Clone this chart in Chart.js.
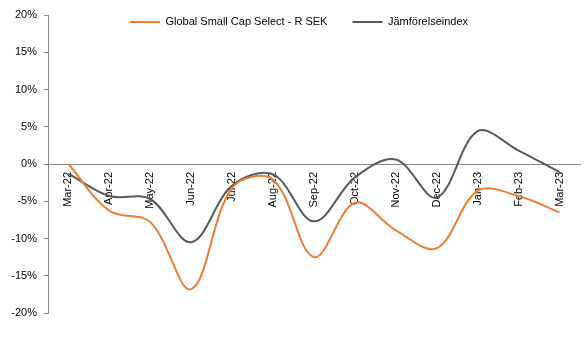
<!DOCTYPE html>
<html>
<head>
<meta charset="utf-8">
<script src="https://cdn.jsdelivr.net/npm/chart.js@4"></script>
<style>
  html, body { margin: 0; padding: 0; background: #fff; }
  #wrap { width: 587px; height: 339px; }
</style>
</head>
<body>
<div id="wrap"><canvas id="chart"></canvas></div>
<script>
let months = ["Mar-22", "Apr-22", "May-22", "Jun-22", "Jul-22", "Aug-22", "Sep-22",
  "Oct-22", "Nov-22", "Dec-22", "Jan-23", "Feb-23", "Mar-23"];
let fund = [0, -6.3, -7.8, -16.8, -3.2, -2.1, -12.5, -5.2, -8.9, -11.3, -3.6, -4.3, -6.5];
let index = [-1.3, -4.3, -4.7, -10.5, -2.9, -1.4, -7.7, -1.8, 0.6, -4.5, 4.4, 1.8, -1.1];
let fundName = "Global Small Cap Select - R SEK";
let indexName = "Jämförelseindex";

Chart.defaults.font.family = "'Liberation Sans', Arial, sans-serif";
Chart.defaults.font.size = 11;
Chart.defaults.color = "#000";

// legend sits on top of the plot area, like the original
const legendShift = {
  id: "legendShift",
  afterLayout(chart) {
    const lg = chart.legend;
    lg.top = -8.5;
    lg.bottom = 60;
    lg.left = 11;
    lg.right = 587;
  },
};

new Chart(document.getElementById("chart"), {
  type: "line",
  data: {
    labels: months,
    datasets: [
      {
        label: fundName,
        data: fund,
        borderColor: "#ED7D31",
        backgroundColor: "#ED7D31",
        borderWidth: 2,
        pointRadius: 0,
        tension: 0.35,
      },
      {
        label: indexName,
        data: index,
        borderColor: "#595959",
        backgroundColor: "#595959",
        borderWidth: 2,
        pointRadius: 0,
        tension: 0.35,
      },
    ],
  },
  options: {
    responsive: true,
    maintainAspectRatio: false,
    animation: false,
    layout: { padding: { left: 0, right: 7, top: 0, bottom: 26 } },
    scales: {
      x: {
        position: { y: 0 },
        offset: true,
        grid: { display: false, drawTicks: false },
        border: { display: true, color: "#868686", width: 1 },
        ticks: { minRotation: 90, maxRotation: 90, padding: 8, autoSkip: false },
      },
      y: {
        min: -20,
        max: 20,
        grid: { drawOnChartArea: false, tickLength: 4, color: "#868686" },
        border: { color: "#868686" },
        ticks: { stepSize: 5, padding: 7, callback: (v) => v + "%" },
        afterFit: (scale) => { scale.width = 48; },
      },
    },
    plugins: {
      legend: {
        maxHeight: 15,
        labels: {
          usePointStyle: true,
          pointStyle: "line",
          pointStyleWidth: 30,
          padding: 25,
        },
      },
      tooltip: { enabled: false },
    },
  },
  plugins: [legendShift],
});
</script>
</body>
</html>
